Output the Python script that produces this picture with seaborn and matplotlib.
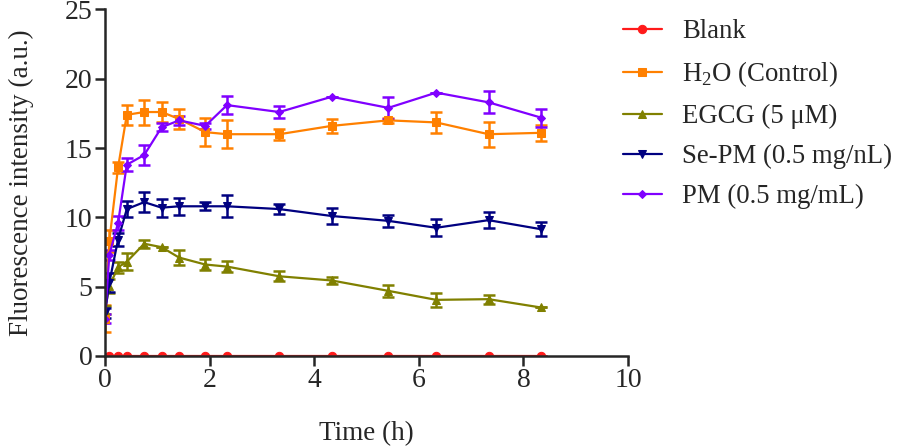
import numpy as np
import pandas as pd
import seaborn as sns
import matplotlib.pyplot as plt

# sampling times (h)
time_h = [0, 0.083, 0.25, 0.417, 0.75, 1.083, 1.417, 1.917, 2.333, 3.333, 4.333, 5.417, 6.333, 7.333, 8.333]

blank = [np.nan, 0, 0, 0, 0, 0, 0, 0, 0, 0, 0, 0, 0, 0, 0]
blank_err = [0, 0, 0, 0, 0, 0, 0, 0, 0, 0, 0, 0, 0, 0, 0]

h2o = [2.7, 8.3, 13.6, 17.4, 17.6, 17.6, 17.1, 16.15, 16.0, 16.0, 16.6, 17.0, 16.85, 16.0, 16.1]
h2o_err = [0.95, 0.8, 0.4, 0.7, 0.9, 0.7, 0.75, 1.0, 1.0, 0.4, 0.5, 0.2, 0.75, 0.9, 0.6]

egcg = [3.3, 5.05, 6.4, 6.8, 8.1, 7.85, 7.1, 6.6, 6.45, 5.75, 5.45, 4.7, 4.05, 4.1, 3.5]
egcg_err = [0.3, 0.5, 0.4, 0.6, 0.3, 0.0, 0.55, 0.4, 0.37, 0.36, 0.28, 0.45, 0.5, 0.33, 0.0]

se_pm = [3.1, 5.3, 8.4, 10.6, 11.1, 10.7, 10.8, 10.8, 10.8, 10.6, 10.1, 9.75, 9.25, 9.8, 9.15]
se_pm_err = [0.35, 0.7, 0.45, 0.6, 0.7, 0.65, 0.6, 0.3, 0.8, 0.35, 0.6, 0.45, 0.6, 0.6, 0.5]

pm = [2.7, 7.3, 9.6, 13.8, 14.5, 16.5, 17.0, 16.6, 18.1, 17.6, 18.7, 17.9, 19.0, 18.3, 17.2]
pm_err = [0.35, 0.35, 0.5, 0.45, 0.7, 0.3, 0.3, 0.2, 0.65, 0.45, 0.0, 0.8, 0.0, 0.8, 0.65]

labels = ["Blank", r"H$_2$O (Control)", "EGCG (5 \u03bcM)", "Se-PM (0.5 mg/nL)", "PM (0.5 mg/mL)"]
colors = ["#FF1A1A", "#FF8000", "#808000", "#000080", "#8000FF"]
marker_list = ["o", "s", "^", "v", "D"]
marker_sizes = [6, 6, 6, 6, 4.5]

series = [blank, h2o, egcg, se_pm, pm]
errors = [blank_err, h2o_err, egcg_err, se_pm_err, pm_err]

rows = []
for lab, vals, errs in zip(labels, series, errors):
    for t, v, e in zip(time_h, vals, errs):
        rows.append({"time": t, "value": v, "err": e, "group": lab})
df = pd.DataFrame(rows)

sns.set_style("ticks")
plt.rcParams['font.family'] = ['Liberation Serif', 'DejaVu Serif']
plt.rcParams['mathtext.fontset'] = 'custom'
plt.rcParams['mathtext.rm'] = 'Liberation Serif'

fig = plt.figure(figsize=(9.09, 4.46), dpi=100)
ax = fig.add_axes([0.1155, 0.2018, 0.5754, 0.777])

for lab, col, mk, ms in zip(labels, colors, marker_list, marker_sizes):
    sub = df[df["group"] == lab].dropna()
    ax.errorbar(sub["time"], sub["value"], yerr=sub["err"], fmt="none",
                ecolor=col, elinewidth=1.8, capsize=4.5, capthick=1.8, zorder=2)
    sns.lineplot(data=sub, x="time", y="value", color=col, marker=mk,
                 markersize=ms, markeredgecolor=col, linewidth=1.6,
                 label=lab, ax=ax, zorder=3, errorbar=None)

ax.set_xlim(0, 10)
ax.set_ylim(0, 25)
ax.set_xticks([0, 2, 4, 6, 8, 10])
ax.set_yticks([0, 5, 10, 15, 20, 25])
ax.tick_params(axis="both", labelsize=20, length=7, width=1.8, direction="out", pad=2)
ax.set_xlabel("Time (h)", fontsize=19.5, labelpad=20)
ax.set_ylabel("Fluorescence intensity (a.u.)", fontsize=19.5, labelpad=22)
for side in ["top", "right"]:
    ax.spines[side].set_visible(False)
for side in ["left", "bottom"]:
    ax.spines[side].set_linewidth(1.8)
    ax.spines[side].set_zorder(5)

leg = ax.legend(loc="upper left", bbox_to_anchor=(623 / 909, 1 - 19 / 446),
                bbox_transform=fig.transFigure, frameon=False, borderaxespad=0,
                borderpad=0, fontsize=19.3, handlelength=1.45, labelspacing=0.56,
                handletextpad=0.75)

fig.savefig("out.png", dpi=100)
